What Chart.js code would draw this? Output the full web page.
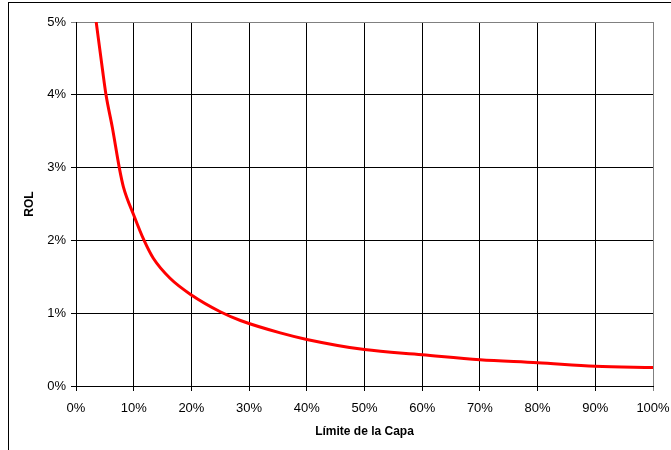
<!DOCTYPE html>
<html lang="es">
<head>
  <meta charset="UTF-8" />
  <title>ROL vs Límite de la Capa</title>
  <script src="https://cdn.jsdelivr.net/npm/chart.js"></script>
  <style>
    html, body { margin: 0; padding: 0; background: #fff; overflow: hidden; }
    .frame { position: absolute; left: 8px; top: 2px; width: 700px; height: 500px; border: 1px solid #000; box-sizing: border-box; }
    .wrap { position: absolute; left: 0; top: 0; width: 671px; height: 450px; }
  </style>
</head>
<body>
  <div class="frame"></div>
  <div class="wrap"><canvas id="rolChart" width="671" height="450"></canvas></div>

  <script>
    // capa limit (%) and ROL (%)
    const limits = [3.5, 4.6, 5.2, 6.3, 7.5, 8.2, 10, 11.8, 13.4, 16.3, 20, 25, 28.5, 35.4, 40, 50, 60, 70, 80, 90, 100];
    const rolValues = [5.0, 4.34, 4.0, 3.55, 3.0, 2.74, 2.35, 2.0, 1.755, 1.48, 1.25, 1.02, 0.90, 0.73, 0.64, 0.50, 0.43, 0.36, 0.32, 0.27, 0.255];
    const xTicks = [0, 10, 20, 30, 40, 50, 60, 70, 80, 90, 100];
    const yTicks = [0, 1, 2, 3, 4, 5];

    const points = limits.map((x, i) => ({ x: x, y: rolValues[i] }));
    const fam = "'Liberation Sans', Arial, sans-serif";
    const tickFont = { family: fam, size: 13 };
    const titleFont = { family: fam, size: 12, weight: "bold" };

    const ctx = document.getElementById("rolChart").getContext("2d");
    new Chart(ctx, {
      type: "line",
      data: {
        datasets: [{
          label: "ROL",
          data: points,
          borderColor: "#ff0000",
          borderWidth: 3,
          pointRadius: 0,
          fill: false,
          cubicInterpolationMode: "monotone"
        }]
      },
      options: {
        responsive: false,
        animation: false,
        layout: { padding: { top: 22, right: 5, left: 0, bottom: 0 } },
        plugins: {
          legend: { display: false },
          tooltip: { enabled: false }
        },
        scales: {
          x: {
            type: "linear",
            min: 0,
            max: 100,
            afterBuildTicks: s => { s.ticks = xTicks.map(v => ({ value: v })); },
            afterFit: s => { s.height = 64; s.paddingRight = 18; },
            ticks: { color: "#000", font: tickFont, padding: 10, maxRotation: 0, callback: v => v + "%" },
            grid: {
              color: c => c.tick && c.tick.value === 100 ? "#808080" : "#000",
              lineWidth: 1,
              tickLength: 5
            },
            border: { color: "#000", width: 1 },
            title: { display: true, text: "Límite de la Capa", color: "#000", font: titleFont, padding: { bottom: 11 } }
          },
          y: {
            min: 0,
            max: 5,
            afterBuildTicks: s => { s.ticks = yTicks.map(v => ({ value: v })); },
            afterFit: s => { s.width = 76; },
            ticks: { color: "#000", font: tickFont, padding: 5, callback: v => v + "%" },
            grid: {
              color: c => c.tick && c.tick.value === 5 ? "#808080" : "#000",
              lineWidth: 1,
              tickLength: 5
            },
            border: { color: "#000", width: 1 },
            title: { display: true, text: "ROL", color: "#000", font: titleFont, padding: { top: 22 } }
          }
        }
      }
    });
  </script>
</body>
</html>
